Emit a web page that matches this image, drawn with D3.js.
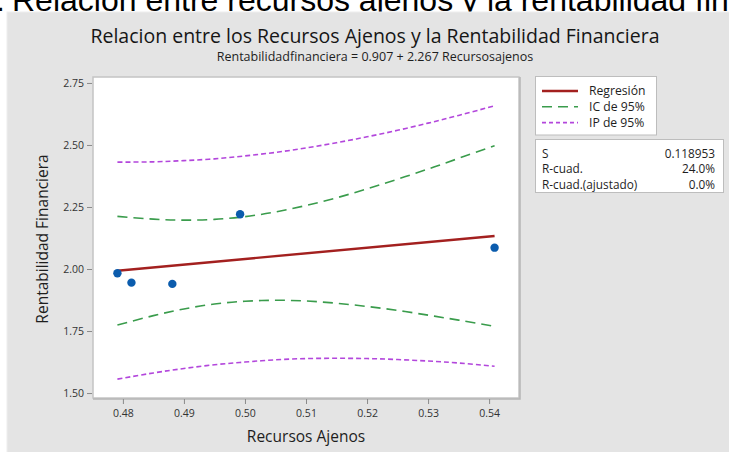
<!DOCTYPE html>
<html>
<head>
<meta charset="utf-8">
<script src="https://cdn.jsdelivr.net/npm/d3@7"></script>
<style>
  html, body { margin: 0; padding: 0; background: #ffffff; }
  svg { display: block; }
</style>
</head>
<body>
<svg id="chart" width="729" height="452"></svg>
<script>
// Observed points
const recursosAjenos = [0.4791, 0.4814, 0.4881, 0.4992, 0.5409];
const rentabilidad   = [1.983, 1.945, 1.940, 2.221, 2.086];

// Fitted line: Rentabilidadfinanciera = 0.907 + 2.267 Recursosajenos
const intercept = 0.907;
const slope = 2.267;

// 95% confidence and prediction bands
const bandX   = [0.4791, 0.485, 0.49, 0.495, 0.50, 0.505, 0.51, 0.515, 0.52, 0.525, 0.53, 0.535, 0.5409];
const ciUpper = [2.212, 2.201, 2.197, 2.200, 2.211, 2.230, 2.256, 2.287, 2.323, 2.362, 2.403, 2.446, 2.497];
const ciLower = [1.774, 1.812, 1.839, 1.859, 1.870, 1.874, 1.871, 1.862, 1.849, 1.833, 1.814, 1.794, 1.769];
const piUpper = [2.431, 2.432, 2.437, 2.444, 2.456, 2.470, 2.488, 2.509, 2.533, 2.559, 2.588, 2.619, 2.658];
const piLower = [1.556, 1.581, 1.599, 1.614, 1.625, 1.634, 1.639, 1.640, 1.639, 1.635, 1.629, 1.621, 1.608];

// Axis ticks
const xTicks = [0.48, 0.49, 0.50, 0.51, 0.52, 0.53, 0.54];
const yTicks = [1.50, 1.75, 2.00, 2.25, 2.50, 2.75];

// Legend and summary table
const legendLabels = ["Regresión", "IC de 95%", "IP de 95%"];
const statLabels = ["S", "R-cuad.", "R-cuad.(ajustado)"];
const statValues = ["0.118953", "24.0%", "0.0%"];

const svg = d3.select("#chart");
const font = "'Open Sans', 'Noto Sans', sans-serif";

const colors = { reg: "#a3201f", ci: "#3a9c4c", pi: "#b347dc", pt: "#0b5cad" };

// Caption above the graph panel
svg.append("text")
  .attr("x", 12).attr("y", 11)
  .attr("font-family", "'Liberation Sans', Arial, sans-serif")
  .attr("font-size", 32).attr("fill", "#000")
  .text("Relación entre recursos ajenos y la rentabilidad financiera");
svg.append("text")
  .attr("x", 5).attr("y", 11).attr("text-anchor", "end")
  .attr("font-family", "'Liberation Sans', Arial, sans-serif")
  .attr("font-size", 32).attr("fill", "#000")
  .text("Figura 1:");

// Graph panel
svg.append("rect")
  .attr("x", 7).attr("y", 12).attr("width", 730).attr("height", 450)
  .attr("fill", "#e4e4e4").attr("stroke", "#eeeeee").attr("stroke-width", 1);

const plot = { left: 93, top: 77, right: 519, bottom: 398 };

const x = d3.scaleLinear().domain([0.4751, 0.5449]).range([plot.left, plot.right]);
const y = d3.scaleLinear().domain([1.480, 2.774]).range([plot.bottom, plot.top]);

// Titles
svg.append("text")
  .attr("x", 375).attr("y", 43).attr("text-anchor", "middle")
  .attr("font-family", font).attr("font-size", 19.5).attr("font-weight", 500).attr("fill", "#161616")
  .text("Relacion entre los Recursos Ajenos y la Rentabilidad Financiera");
svg.append("text")
  .attr("x", 375).attr("y", 61).attr("text-anchor", "middle")
  .attr("font-family", font).attr("font-size", 12.5).attr("fill", "#1e1e1e")
  .text("Rentabilidadfinanciera = " + intercept.toFixed(3) + " + " + slope.toFixed(3) + " Recursosajenos");

// Data region
svg.append("rect")
  .attr("x", plot.left).attr("y", plot.top)
  .attr("width", plot.right - plot.left).attr("height", plot.bottom - plot.top)
  .attr("fill", "#ffffff").attr("stroke", "#c4c4c4").attr("stroke-width", 1.5);
svg.append("path")
  .attr("d", `M${plot.right + 1},${plot.top} V${plot.bottom + 1} H${plot.left}`)
  .attr("fill", "none").attr("stroke", "#b5b5b5").attr("stroke-width", 1.5);

// Axes
const xAxis = svg.append("g")
  .attr("transform", `translate(0,${plot.bottom + 1})`)
  .call(d3.axisBottom(x).tickValues(xTicks).tickFormat(d3.format(".2f")).tickSize(5).tickPadding(6));
const yAxis = svg.append("g")
  .attr("transform", `translate(${plot.left - 1},0)`)
  .call(d3.axisLeft(y).tickValues(yTicks).tickFormat(d3.format(".2f")).tickSize(5).tickPadding(3));

[xAxis, yAxis].forEach(g => {
  g.select(".domain").remove();
  g.selectAll(".tick line").attr("stroke", "#8a8a8a");
  g.selectAll(".tick text").attr("font-family", font).attr("font-size", 10.5).attr("fill", "#333");
});

svg.append("text")
  .attr("x", 306).attr("y", 442).attr("text-anchor", "middle")
  .attr("font-family", font).attr("font-size", 15.5).attr("fill", "#1e1e1e")
  .text("Recursos Ajenos");
svg.append("text")
  .attr("transform", "translate(48,239) rotate(-90)").attr("text-anchor", "middle")
  .attr("font-family", font).attr("font-size", 15.5).attr("fill", "#1e1e1e")
  .text("Rentabilidad Financiera");

// Bands
const band = vals => d3.line()
  .x((d, i) => x(bandX[i]))
  .y(d => y(d))
  .curve(d3.curveNatural)(vals);

[[piUpper, colors.pi, "5,3"], [piLower, colors.pi, "5,3"],
 [ciUpper, colors.ci, "10,6"], [ciLower, colors.ci, "10,6"]].forEach(([vals, c, dash]) => {
  svg.append("path")
    .attr("d", band(vals))
    .attr("fill", "none").attr("stroke", c).attr("stroke-width", 1.6)
    .attr("stroke-dasharray", dash);
});

// Regression line
const xExt = d3.extent(recursosAjenos);
svg.append("line")
  .attr("x1", x(xExt[0])).attr("y1", y(intercept + slope * xExt[0]))
  .attr("x2", x(xExt[1])).attr("y2", y(intercept + slope * xExt[1]))
  .attr("stroke", colors.reg).attr("stroke-width", 2.4);

// Points
svg.selectAll("circle.pt")
  .data(recursosAjenos.map((v, i) => [v, rentabilidad[i]]))
  .join("circle").attr("class", "pt")
  .attr("cx", d => x(d[0])).attr("cy", d => y(d[1]))
  .attr("r", 4.2).attr("fill", colors.pt);

// Legend
const legend = svg.append("g");
legend.append("rect")
  .attr("x", 535.5).attr("y", 76.5).attr("width", 121).attr("height", 58.5)
  .attr("fill", "#ffffff").attr("stroke", "#bdbdbd");
const legendStyles = [[colors.reg, null, 2.4], [colors.ci, "10,6", 1.6], [colors.pi, "4,3", 1.6]];
legendLabels.forEach((lab, i) => {
  const yy = 91 + i * 15.8;
  legend.append("line")
    .attr("x1", 542).attr("x2", 578).attr("y1", yy).attr("y2", yy)
    .attr("stroke", legendStyles[i][0]).attr("stroke-width", legendStyles[i][2])
    .attr("stroke-dasharray", legendStyles[i][1]);
  legend.append("text")
    .attr("x", 589).attr("y", yy + 4.2)
    .attr("font-family", font).attr("font-size", 12.2).attr("fill", "#1e1e1e")
    .text(lab);
});

// Summary statistics
const stats = svg.append("g");
stats.append("rect")
  .attr("x", 535.5).attr("y", 139.5).attr("width", 188).attr("height", 53)
  .attr("fill", "#ffffff").attr("stroke", "#bdbdbd");
statLabels.forEach((lab, i) => {
  const yy = 157.5 + i * 15.5;
  stats.append("text")
    .attr("x", 542).attr("y", yy)
    .attr("font-family", font).attr("font-size", 11.8).attr("fill", "#1e1e1e")
    .text(lab);
  stats.append("text")
    .attr("x", 715).attr("y", yy).attr("text-anchor", "end")
    .attr("font-family", font).attr("font-size", 11.8).attr("fill", "#1e1e1e")
    .text(statValues[i]);
});
</script>
</body>
</html>
